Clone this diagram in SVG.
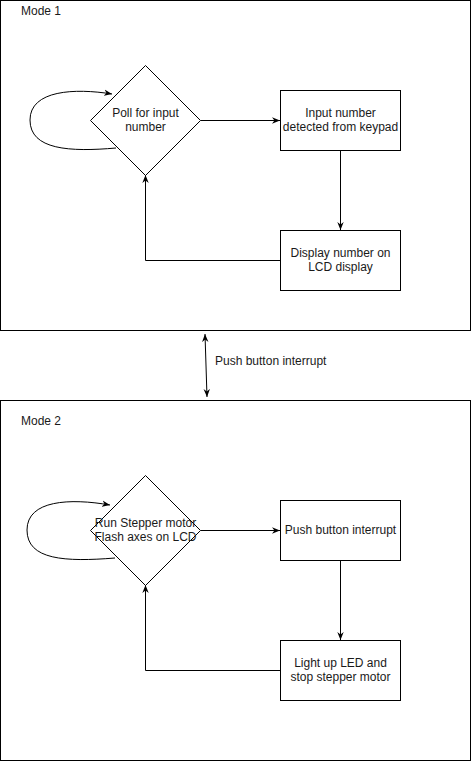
<svg xmlns="http://www.w3.org/2000/svg" width="472" height="761" viewBox="0 0 472 761">
<style>
.box{fill:#fff;stroke:#000;stroke-width:1}
.dia{fill:#fff;stroke:#000;stroke-width:1}
.edge{fill:none;stroke:#000;stroke-width:1}
text{font-family:"Liberation Sans",Arial,sans-serif;font-size:12px;fill:#1a1a1a}
.c{text-anchor:middle}
</style>
<defs>
<marker id="arr" viewBox="0 0 10 8" refX="10" refY="4" markerWidth="8" markerHeight="7" markerUnits="userSpaceOnUse" orient="auto-start-reverse">
<path d="M0,0 L10,4 L0,8 L3,4 Z" fill="#000"/>
</marker>
</defs>
<rect width="472" height="761" fill="#fff"/>
<g id="mode1">
<rect class="box" x="0.5" y="0.5" width="470" height="330"/>
<text x="21" y="15">Mode 1</text>
</g>
<g id="mode2">
<rect class="box" x="0.5" y="400.5" width="470" height="360"/>
<text x="21" y="425">Mode 2</text>
</g>
<g id="connectors">
<path class="edge" d="M116,148 C70,152 30,150 30,120 C30,90 75,88 112,94" marker-end="url(#arr)"/>
<path class="edge" d="M200.5,120.5 L280,120.5" marker-end="url(#arr)"/>
<path class="edge" d="M340.5,150 L340.5,230" marker-end="url(#arr)"/>
<path class="edge" d="M280,260.5 L145.5,260.5 L145.5,175" marker-end="url(#arr)"/>
<path class="edge" d="M205,334 L207,397" marker-start="url(#arr)" marker-end="url(#arr)"/>
<path class="edge" d="M115,558 C65,562 27,560 27,530 C27,500 70,498 110,505" marker-end="url(#arr)"/>
<path class="edge" d="M200.5,530.5 L280,530.5" marker-end="url(#arr)"/>
<path class="edge" d="M340.5,560 L340.5,640" marker-end="url(#arr)"/>
<path class="edge" d="M280,670.5 L145.5,670.5 L145.5,585" marker-end="url(#arr)"/>
</g>
<g id="interrupt-label">
<text x="215" y="365">Push button interrupt</text>
</g>
<g id="poll">
<path class="dia" d="M145.5,65.5 L200.5,120.5 L145.5,175.5 L90.5,120.5 Z"/>
<text class="c" x="145.5" y="117">Poll for input</text>
<text class="c" x="145.5" y="131">number</text>
</g>
<g id="input-detected">
<rect class="box" x="280.5" y="90.5" width="120" height="60"/>
<text class="c" x="340.5" y="117">Input number</text>
<text class="c" x="340.5" y="131">detected from keypad</text>
</g>
<g id="display-number">
<rect class="box" x="280.5" y="230.5" width="120" height="60"/>
<text class="c" x="340.5" y="257">Display number on</text>
<text class="c" x="340.5" y="271">LCD display</text>
</g>
<g id="run-stepper">
<path class="dia" d="M145.5,475.5 L200.5,530.5 L145.5,585.5 L90.5,530.5 Z"/>
<text class="c" x="145.5" y="527">Run Stepper motor</text>
<text class="c" x="145.5" y="541">Flash axes on LCD</text>
</g>
<g id="push-button">
<rect class="box" x="280.5" y="500.5" width="120" height="60"/>
<text class="c" x="340.5" y="534">Push button interrupt</text>
</g>
<g id="light-led">
<rect class="box" x="280.5" y="640.5" width="120" height="60"/>
<text class="c" x="340.5" y="667">Light up LED and</text>
<text class="c" x="340.5" y="681">stop stepper motor</text>
</g>
</svg>
